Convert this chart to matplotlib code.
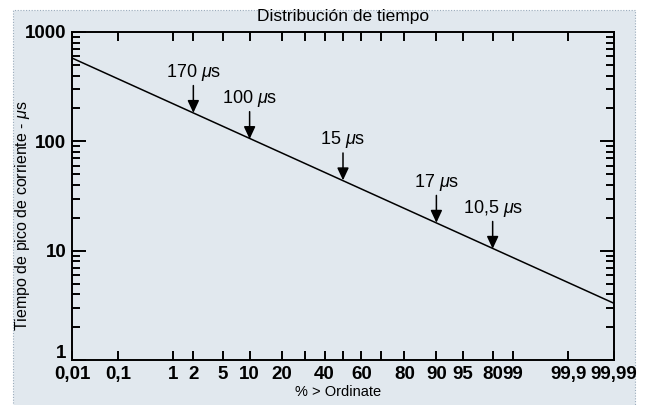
import numpy as np
import matplotlib
matplotlib.use("Agg")
import matplotlib.pyplot as plt
from matplotlib.patches import Rectangle
from matplotlib.transforms import ScaledTranslation
from matplotlib.ticker import LogLocator, NullFormatter, NullLocator
from statistics import NormalDist

# --- values ---
line_pct = [0.01, 99.99]      # % > ordinate at both ends of the line
line_us = [578, 3.3]          # peak current time (µs) at those ends

arrow_pct = [2, 10, 50, 90, 98]
arrow_us = [182, 105, 44, 18, 10.4]
arrow_labels = ["170", "100", "15", "17", "10,5"]

x_ticks = [0.01, 0.1, 1, 2, 5, 10, 20, 30, 40, 50, 60, 70, 80, 90, 95, 98, 99, 99.9, 99.99]
x_ticklabels = ["0,01", "0,1", "1", "2", "5", "10", "20", "", "40", "", "60", "",
                "80", "90", "95", "80", "99", "99,9", "99,99"]
y_ticks = [1, 10, 100, 1000]
y_ticklabels = ["1", "10", "100", "1000"]

BG = "#e1e8ee"
BORDER = "#9aabbb"
TICK_FONT = ["Liberation Sans Narrow", "Liberation Sans", "DejaVu Sans"]

plt.rcParams["font.family"] = ["Liberation Sans", "DejaVu Sans"]
plt.rcParams["mathtext.fontset"] = "custom"
plt.rcParams["mathtext.rm"] = "Liberation Sans"
plt.rcParams["mathtext.it"] = "Liberation Sans:italic"

_nd = NormalDist()


def _to_z(p):
    # probability scale: percent -> standard normal quantile
    p = np.clip(np.asarray(p, dtype=float), 1e-6, 100 - 1e-6)
    return np.vectorize(lambda v: _nd.inv_cdf(v / 100.0), otypes=[float])(p)


def _from_z(z):
    z = np.asarray(z, dtype=float)
    return np.vectorize(lambda v: _nd.cdf(v) * 100.0, otypes=[float])(z)


W, H = 647, 405
fig = plt.figure(figsize=(W / 100, H / 100), dpi=100, facecolor="white")

# light panel with dotted border behind everything
fig.patches.append(Rectangle((13 / W, -0.02), (635 - 13) / W, 1 - 10 / H + 0.02,
                             transform=fig.transFigure, facecolor=BG,
                             edgecolor=BORDER, linestyle=(0, (1, 1.5)),
                             linewidth=0.8, zorder=-10))

ax = fig.add_axes([72 / W, 1 - 360 / H, (614 - 72) / W, (360 - 32) / H])
ax.set_facecolor(BG)

ax.set_xscale("function", functions=(_to_z, _from_z))
ax.set_yscale("log")
ax.set_xlim(0.01, 99.99)
ax.set_ylim(1, 1000)

ax.plot(line_pct, line_us, color="black", linewidth=1.1, solid_capstyle="butt")

for p, v, lab in zip(arrow_pct, arrow_us, arrow_labels):
    ax.annotate(lab + r" $\mu$s", xy=(p, v), xytext=(0, 26), textcoords="offset points",
                ha="center", va="baseline", fontsize=13,
                arrowprops=dict(arrowstyle="-|>,head_length=0.75,head_width=0.35",
                                color="black", lw=1.1, shrinkA=0, shrinkB=0,
                                mutation_scale=10))

# axes / ticks
ax.set_xticks(x_ticks, x_ticklabels)
ax.xaxis.set_minor_locator(NullLocator())
ax.set_yticks(y_ticks, y_ticklabels)
ax.yaxis.set_minor_locator(LogLocator(base=10, subs=np.arange(2, 10)))
ax.yaxis.set_minor_formatter(NullFormatter())

ax.tick_params(which="both", direction="in", top=True, right=True, width=1.4, color="black")
ax.tick_params(axis="x", which="major", length=6.5, pad=4)
ax.tick_params(axis="y", which="major", length=10, pad=4)
ax.tick_params(axis="y", which="minor", length=6)
for lbl in ax.get_xticklabels() + ax.get_yticklabels():
    lbl.set_family(TICK_FONT)
    lbl.set_fontweight("bold")
    lbl.set_fontsize(13.5)
for sp in ax.spines.values():
    sp.set_linewidth(1.4)

# the "1" label sits a little above the bottom corner in the original
for lbl in ax.get_yticklabels():
    if lbl.get_text() == "1":
        lbl.set_transform(lbl.get_transform() + ScaledTranslation(0, 6 / 72, fig.dpi_scale_trans))

fig.text(343 / W, 1 - 17 / H, "Distribución de tiempo", ha="center", va="center", fontsize=12.5)
fig.text(338 / W, 1 - 392 / H, "% > Ordinate", ha="center", va="center", fontsize=10.5)
fig.text(23 / W, 1 - 216 / H, r"Tiempo de pico de corriente - $\mu$s", rotation=90,
         ha="center", va="center", fontsize=11.5)

fig.savefig("out.png", dpi=100, facecolor=fig.get_facecolor())
